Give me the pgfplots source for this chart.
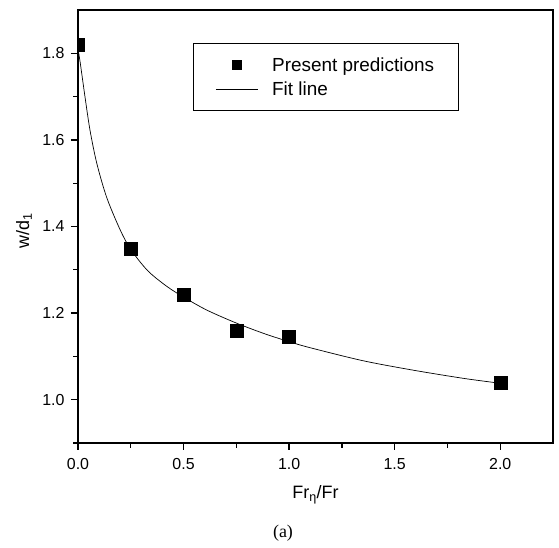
\documentclass[border=0pt]{standalone}
\usepackage{fontspec}
\setmainfont{Liberation Sans}
\newfontfamily\seriffont{Liberation Serif}
\usepackage{pgfplots}
\pgfplotsset{compat=1.18}
\begin{document}
\begin{tikzpicture}
\begin{axis}[
  name=ax, at={(0,0)}, anchor=south west,
  scale only axis, width=475bp, height=433bp,
  xmin=0, xmax=2.25, ymin=0.9, ymax=1.9,
  axis line style={line width=1.8bp},
  every tick/.style={line width=1.3bp, black},
  tick align=outside, major tick length=7bp, minor tick length=4.5bp,
  xtick pos=bottom, ytick pos=left,
  xtick={0,0.5,1.0,1.5,2.0}, minor xtick={0.25,0.75,1.25,1.75},
  ytick={1.0,1.2,1.4,1.6,1.8}, minor ytick={0.9,1.1,1.3,1.5,1.7},
  /pgf/number format/assume math mode=true,
  /pgf/number format/.cd, fixed, fixed zerofill, precision=1, /pgfplots/.cd,
  tick label style={font=\fontsize{16}{19}\selectfont},
  xticklabel style={yshift=-5bp},
  yticklabel style={xshift=-3bp},
  label style={font=\fontsize{18}{21}\selectfont},
  xlabel={Fr\textsubscript{η}/Fr},
  ylabel={w/d\textsubscript{1}},
  xlabel style={at={(axis description cs:0.5,0)}, anchor=center, yshift=-52bp},
  ylabel style={at={(axis description cs:0,0.49)}, anchor=center, rotate=0, yshift=54bp},
  clip mode=individual, clip marker paths=true,
  legend style={at={(0.242,0.924)}, anchor=north west, draw=black, line width=1bp,
    font=\fontsize{19}{22}\selectfont, inner xsep=22bp, inner ysep=12bp,
    row sep=5bp, cells={anchor=west},
    /tikz/every odd column/.append style={column sep=12bp}},
]
\addplot[only marks, mark=square*, mark size=6.5bp, black,
  legend image code/.code={\draw[black, fill=black] (16.5bp,-4.5bp) rectangle (25.5bp,4.5bp);}]
  coordinates {(0,1.82) (0.25,1.349) (0.5,1.243) (0.75,1.159) (1.0,1.145) (2.0,1.040)};
\addlegendentry{Present predictions}
\addplot[black, line width=0.7bp, smooth, no marks,
  legend image code/.code={\draw[black, line width=0.7bp] (0bp,0bp) -- (42bp,0bp);}]
  coordinates {(0,1.81) (0.01,1.78) (0.033,1.70) (0.057,1.622) (0.089,1.546) (0.136,1.467)
   (0.2,1.392) (0.25,1.347) (0.33,1.298) (0.42,1.262) (0.5,1.237) (0.61,1.207) (0.75,1.177)
   (0.88,1.153) (1.0,1.134) (1.1,1.120) (1.35,1.090) (1.59,1.068) (1.83,1.049) (2.0,1.038)};
\addlegendentry{Fit line}
\end{axis}
\node[font=\seriffont\fontsize{18}{21}\selectfont] at ([xshift=205bp,yshift=-90bp]ax.south west) {(a)};
\path[use as bounding box] ([xshift=-78bp,yshift=-105bp]ax.south west) rectangle ([xshift=6bp,yshift=10bp]ax.north east);
\end{tikzpicture}
\end{document}
